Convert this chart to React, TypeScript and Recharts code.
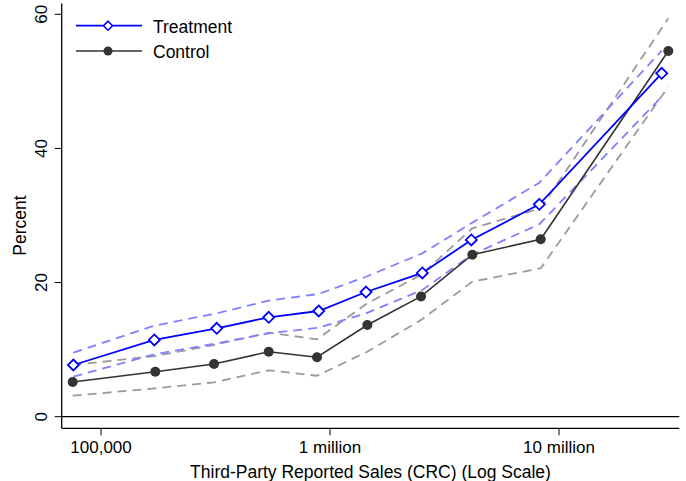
import React from "react";
import { LineChart, Line, XAxis, YAxis, ReferenceLine } from "recharts";

// Binned third-party reported sales (CRC) and share of firms (percent)
const TREAT_SALES = [75700, 170900, 320100, 539900, 892600, 1436000, 2530000, 4140000, 8205000, 28090000];
const TREAT_PCT = [7.71, 11.44, 13.18, 14.82, 15.76, 18.59, 21.43, 26.35, 31.67, 51.2];
const TREAT_UPPER = [9.54, 13.57, 15.42, 17.3, 18.3, 20.87, 24.36, 28.84, 34.89, 54.57];
const TREAT_LOWER = [5.96, 9.3, 10.94, 12.44, 13.27, 15.42, 18.89, 24.11, 28.7, 47.71];

const CTRL_SALES = [75200, 172600, 311500, 539900, 877300, 1455000, 2497000, 4182000, 8321000, 30010000];
const CTRL_PCT = [5.17, 6.71, 7.86, 9.69, 8.86, 13.67, 17.93, 24.15, 26.45, 54.53];
const CTRL_UPPER = [7.71, 9.05, 10.69, 12.52, 11.54, 16.91, 21.13, 28.09, 31.07, 59.4];
const CTRL_LOWER = [3.13, 4.23, 5.13, 6.92, 6.11, 9.69, 14.42, 20.13, 22.13, 49.2];

const X_TICKS = [100000, 1000000, 10000000];
const X_TICK_LABELS: Record<number, string> = {
  100000: "100,000",
  1000000: "1 million",
  10000000: "10 million",
};
const Y_TICKS = [0, 20, 40, 60];

const SERIES_NAMES = ["Treatment", "Control"];
const X_TITLE = "Third-Party Reported Sales (CRC) (Log Scale)";
const Y_TITLE = "Percent";

const FONT = "'Liberation Sans', Arial, Helvetica, sans-serif";
const BLUE = "#0000ff";
const BLUE_CI = "#8080ff";
const DARK = "#333333";
const GRAY_CI = "#9a9a9a";

const treatRows = TREAT_SALES.map((s, i) => ({
  sales: s,
  pct: TREAT_PCT[i],
  upper: TREAT_UPPER[i],
  lower: TREAT_LOWER[i],
}));
const ctrlRows = CTRL_SALES.map((s, i) => ({
  sales: s,
  pct: CTRL_PCT[i],
  upper: CTRL_UPPER[i],
  lower: CTRL_LOWER[i],
}));

const Diamond = (props: any) => {
  const { cx, cy, index } = props;
  if (cx == null || cy == null) return <g key={index} />;
  const r = 5.5;
  return (
    <path
      key={index}
      d={`M${cx},${cy - r} L${cx + r},${cy} L${cx},${cy + r} L${cx - r},${cy} Z`}
      fill="#ffffff"
      stroke={BLUE}
      strokeWidth={1.8}
    />
  );
};

const Dot = (props: any) => {
  const { cx, cy, index } = props;
  if (cx == null || cy == null) return <g key={index} />;
  return <circle key={index} cx={cx} cy={cy} r={5} fill={DARK} stroke="none" />;
};

const XTick = (props: any) => {
  const { x, y, payload } = props;
  return (
    <text x={x} y={y + 16} textAnchor="middle" fontFamily={FONT} fontSize={17} fill="#000">
      {X_TICK_LABELS[payload.value] ?? String(payload.value)}
    </text>
  );
};

const YTick = (props: any) => {
  const { x, y, payload } = props;
  return (
    <text
      x={x}
      y={y}
      transform={`rotate(-90 ${x} ${y})`}
      textAnchor="middle"
      fontFamily={FONT}
      fontSize={17}
      fill="#000"
    >
      {payload.value}
    </text>
  );
};

const XTitle = (props: any) => {
  const vb = props.viewBox || {};
  return (
    <text
      x={vb.x + vb.width / 2}
      y={vb.y + 49.5}
      textAnchor="middle"
      fontFamily={FONT}
      fontSize={17.5}
      fill="#000"
    >
      {X_TITLE}
    </text>
  );
};

const YTitle = (props: any) => {
  const vb = props.viewBox || {};
  const x = vb.x + 26;
  const y = vb.y + 222;
  return (
    <text
      x={x}
      y={y}
      transform={`rotate(-90 ${x} ${y})`}
      textAnchor="middle"
      fontFamily={FONT}
      fontSize={17.5}
      fill="#000"
    >
      {Y_TITLE}
    </text>
  );
};

const LegendBox = () => (
  <svg
    width={200}
    height={70}
    style={{ position: "absolute", left: 70, top: 8, overflow: "visible" }}
  >
    <g transform="translate(-70,-8)">
      <line x1={76} x2={142} y1={25.7} y2={25.7} stroke={BLUE} strokeWidth={1.8} />
      <path d="M108,21.2 L112.5,25.7 L108,30.2 L103.5,25.7 Z" fill="#fff" stroke={BLUE} strokeWidth={1.6} />
      <text x={153} y={33} fontFamily={FONT} fontSize={17.5} fill="#000">
        {SERIES_NAMES[0]}
      </text>
      <line x1={76} x2={142} y1={51} y2={51} stroke={DARK} strokeWidth={1.6} />
      <circle cx={108} cy={51} r={4.5} fill={DARK} />
      <text x={153} y={58.3} fontFamily={FONT} fontSize={17.5} fill="#000">
        {SERIES_NAMES[1]}
      </text>
    </g>
  </svg>
);

export default function App() {
  return (
    <div style={{ position: "absolute", left: 0, top: 0, width: 686, height: 481, background: "#fff" }}>
      <LineChart width={686} height={481} margin={{ top: 3.5, right: 6.7, left: 0, bottom: 0 }}>
        <XAxis
          dataKey="sales"
          type="number"
          scale="log"
          domain={[67340, 33520000]}
          allowDataOverflow
          ticks={X_TICKS}
          height={52.7}
          tickSize={7}
          tickMargin={2}
          stroke="#000"
          axisLine={{ stroke: "#000", strokeWidth: 1.3 }}
          tickLine={{ stroke: "#000", strokeWidth: 1 }}
          tick={<XTick />}
          label={<XTitle />}
        />
        <YAxis
          type="number"
          domain={[-1.73, 61.61]}
          allowDataOverflow
          ticks={Y_TICKS}
          width={61.7}
          tickSize={7}
          tickMargin={8}
          axisLine={{ stroke: "#000", strokeWidth: 1.3 }}
          tickLine={{ stroke: "#000", strokeWidth: 1 }}
          tick={<YTick />}
          label={<YTitle />}
        />
        <ReferenceLine y={0} stroke="#000" strokeWidth={1.3} />
        <Line data={ctrlRows} dataKey="upper" stroke={GRAY_CI} strokeWidth={1.8} strokeDasharray="9 6" dot={false} isAnimationActive={false} />
        <Line data={ctrlRows} dataKey="lower" stroke={GRAY_CI} strokeWidth={1.8} strokeDasharray="9 6" dot={false} isAnimationActive={false} />
        <Line data={treatRows} dataKey="upper" stroke={BLUE_CI} strokeWidth={1.8} strokeDasharray="9 6" dot={false} isAnimationActive={false} />
        <Line data={treatRows} dataKey="lower" stroke={BLUE_CI} strokeWidth={1.8} strokeDasharray="9 6" dot={false} isAnimationActive={false} />
        <Line data={ctrlRows} dataKey="pct" name={SERIES_NAMES[1]} stroke={DARK} strokeWidth={1.6} dot={<Dot />} isAnimationActive={false} />
        <Line data={treatRows} dataKey="pct" name={SERIES_NAMES[0]} stroke={BLUE} strokeWidth={1.8} dot={<Diamond />} isAnimationActive={false} />
      </LineChart>
      <LegendBox />
    </div>
  );
}
